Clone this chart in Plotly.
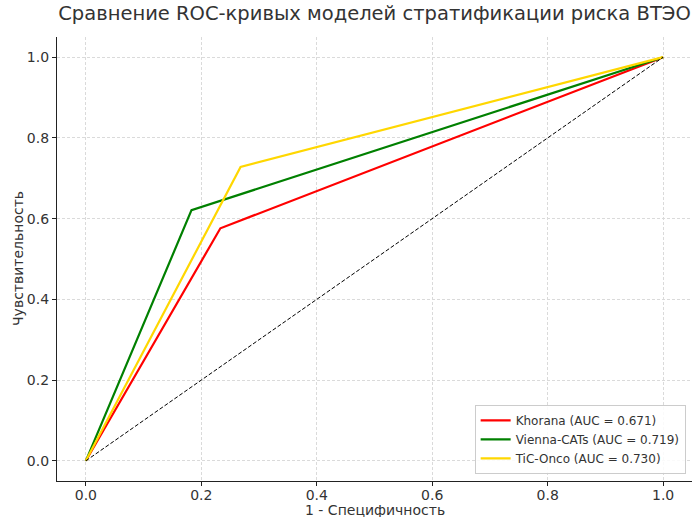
import plotly.graph_objects as go

# ROC operating points (FPR, TPR) for each risk-stratification model
models = ["Khorana", "Vienna-CATs", "TiC-Onco"]
auc_values = [0.671, 0.719, 0.730]
fpr_khorana = [0.0, 0.233, 1.0]
tpr_khorana = [0.0, 0.576, 1.0]
fpr_vienna = [0.0, 0.183, 1.0]
tpr_vienna = [0.0, 0.621, 1.0]
fpr_tic = [0.0, 0.268, 1.0]
tpr_tic = [0.0, 0.728, 1.0]
colors = ["#ff0000", "#008000", "#ffd700"]

tick_vals = [0.0, 0.2, 0.4, 0.6, 0.8, 1.0]
tick_text = ["0.0", "0.2", "0.4", "0.6", "0.8", "1.0"]

W, H = 697, 517
ML, MR, MT, MB = 57, 5, 37, 36

fig = go.Figure()

curves = [(fpr_khorana, tpr_khorana), (fpr_vienna, tpr_vienna), (fpr_tic, tpr_tic)]
for name, auc, (fx, ty), col in zip(models, auc_values, curves, colors):
    fig.add_trace(go.Scatter(
        x=fx, y=ty, mode="lines",
        name=f"{name} (AUC = {auc:.3f})",
        line=dict(color=col, width=2.2),
    ))

# chance diagonal
fig.add_trace(go.Scatter(
    x=[0, 1], y=[0, 1], mode="lines", showlegend=False,
    line=dict(color="black", width=1, dash="4px,2px"),
))

axis_common = dict(
    range=[-0.05, 1.05],
    tickvals=tick_vals, ticktext=tick_text,
    showgrid=True, gridcolor="#dadada", griddash="3px,2px", gridwidth=0.8,
    zeroline=False,
    showline=True, linecolor="#222222", linewidth=1.2, mirror=False,
    ticks="outside", ticklen=4, tickcolor="#222222",
    tickfont=dict(size=14, color="#333333"),
    automargin=False,
)

fig.update_layout(
    width=W, height=H,
    margin=dict(l=ML, r=MR, t=MT, b=MB),
    paper_bgcolor="white", plot_bgcolor="white",
    font=dict(family="DejaVu Sans", color="#333333"),
    title=dict(
        text="Сравнение ROC-кривых моделей стратификации риска ВТЭО",
        x=374.5 / W, xanchor="center", y=0.988, yanchor="top",
        font=dict(size=19.5, color="#333333"),
    ),
    xaxis=dict(axis_common, ticklabelstandoff=-3),
    yaxis=dict(axis_common),
    legend=dict(
        x=0.99, y=0.016, xanchor="right", yanchor="bottom",
        bgcolor="rgba(255,255,255,0.85)", bordercolor="#cccccc", borderwidth=1,
        font=dict(size=12, color="#333333"),
        tracegroupgap=0, itemwidth=30,
    ),
    showlegend=True,
)

# axis titles placed in paper coordinates
fig.add_annotation(
    text="1 - Специфичность", xref="paper", yref="paper",
    x=0.5, y=-(510 - (H - MB)) / (H - MT - MB), xanchor="center", yanchor="middle",
    showarrow=False, font=dict(size=14, color="#333333"),
)
fig.add_annotation(
    text="Чувствительность", xref="paper", yref="paper",
    x=-(ML - 18) / (W - ML - MR), y=0.5, xanchor="center", yanchor="middle",
    textangle=-90, showarrow=False, font=dict(size=14, color="#333333"),
)

fig.write_html("out.html")
